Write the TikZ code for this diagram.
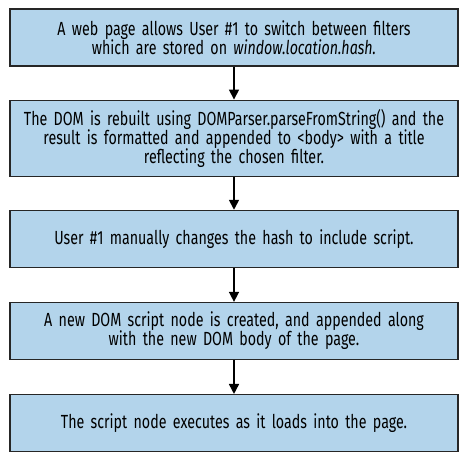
\documentclass[tikz,border=0pt]{standalone}
\usepackage{fontspec}
\setmainfont{Fira Sans}[FakeStretch=0.75]
\usetikzlibrary{positioning,arrows.meta}
\definecolor{cajaazul}{HTML}{B3D4EB}
\tikzset{
	paso/.style={draw=black!85,line width=1.1pt,fill=cajaazul,
		text width=440pt,align=center,minimum width=448pt,
		minimum height=57pt,inner ysep=9pt,
		font=\fontsize{19}{19}\selectfont},
	flecha/.style={line width=1.6pt,-{Triangle[length=10pt,width=10pt]}}
}
\begin{document}
\begin{tikzpicture}
	\useasboundingbox (0,0) rectangle (472pt,-464pt);
	\node[paso] (web) at (234pt,-37.5pt)
	{A web page allows User \#1 to switch between filters\\
		which are stored on \textit{window.location.hash.}};
	\node[paso,below=33pt of web] (dom)
	{The DOM is rebuilt using DOMParser.parseFromString() and the\\
		result is formatted and appended to <body> with a title\\
		reflecting the chosen filter.};
	\node[paso,below=33pt of dom] (hash)
	{User \#1 manually changes the hash to include script.};
	\node[paso,below=34pt of hash] (nodo)
	{A new DOM script node is created, and appended along\\
		with the new DOM body of the page.};
	\node[paso,below=34pt of nodo] (carga)
	{The script node executes as it loads into the page.};
	% flechas entre pasos
	\foreach \Xa/\Xb in
	{web/dom,dom/hash,hash/nodo,nodo/carga}
	{
		\draw[flecha] (\Xa) -- (\Xb);
	}
\end{tikzpicture}
\end{document}
